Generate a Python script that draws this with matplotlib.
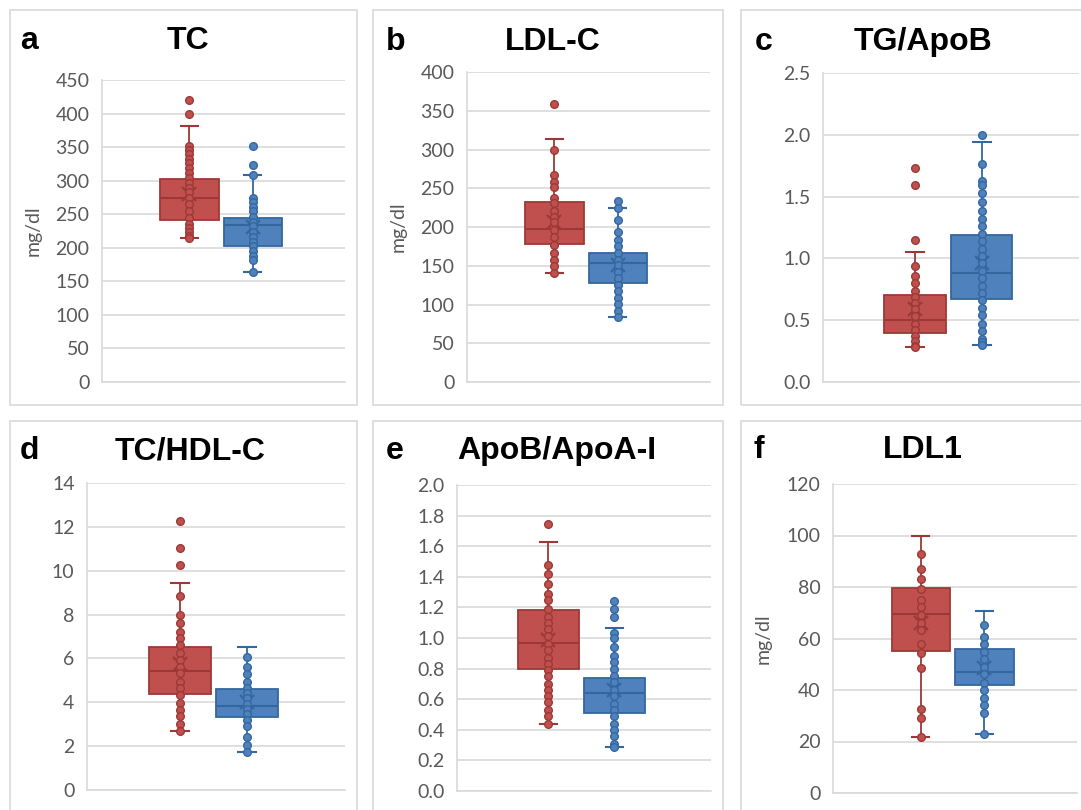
import matplotlib
matplotlib.use("Agg")
import matplotlib.pyplot as plt
from matplotlib.patches import Rectangle

# panel names
letters = ["a", "b", "c", "d", "e", "f"]
titles = ["TC", "LDL-C", "TG/ApoB", "TC/HDL-C", "ApoB/ApoA-I", "LDL1"]
ylabels = ["mg/dl", "mg/dl", "", "", "", "mg/dl"]
ylims = [(0, 450), (0, 400), (0, 2.5), (0, 14), (0, 2.0), (0, 120)]
ysteps = [50, 50, 0.5, 2, 0.2, 20]
yfmt = ["{:.0f}", "{:.0f}", "{:.1f}", "{:.0f}", "{:.1f}", "{:.0f}"]

# box stats: (whisker low, q1, median, q3, whisker high, mean)
red_stats = [
    (214, 241, 274, 302, 381, 280),
    (141, 178, 197, 232, 313, 207),
    (0.28, 0.40, 0.50, 0.70, 1.05, 0.59),
    (2.70, 4.38, 5.43, 6.54, 9.45, 5.75),
    (0.44, 0.80, 0.965, 1.18, 1.625, 0.99),
    (21.9, 55.3, 69.5, 79.7, 99.8, 66.1),
]
blue_stats = [
    (164, 202, 234, 245, 308, 231),
    (84, 128, 153, 167, 224, 151),
    (0.30, 0.67, 0.88, 1.19, 1.94, 0.96),
    (1.75, 3.32, 3.84, 4.61, 6.54, 4.03),
    (0.29, 0.51, 0.64, 0.74, 1.063, 0.66),
    (22.9, 41.9, 46.9, 55.9, 70.8, 48.4),
]

# individual points
red_pts = [
    [420, 400, 352, 346, 339, 333, 327, 319, 311, 304, 296, 289, 283, 274, 265, 255, 244, 236, 230, 224, 218, 214],
    [359, 299, 267, 258, 251, 238, 231, 221, 213, 206, 196, 187, 177, 167, 157, 150, 141],
    [1.73, 1.59, 1.15, 0.94, 0.86, 0.80, 0.74, 0.69, 0.64, 0.59, 0.53, 0.47, 0.42, 0.37, 0.33, 0.29, 0.28],
    [12.27, 11.05, 10.26, 8.85, 7.98, 7.63, 7.22, 6.95, 6.61, 6.23, 5.93, 5.62, 5.32, 4.94, 4.64, 4.33, 3.98, 3.65, 3.37, 3.01, 2.70],
    [1.745, 1.48, 1.42, 1.35, 1.29, 1.25, 1.19, 1.14, 1.10, 1.06, 1.01, 0.96, 0.92, 0.87, 0.83, 0.79, 0.75, 0.70, 0.66, 0.62, 0.58, 0.53, 0.49, 0.44],
    [92.8, 86.9, 83.1, 79.2, 75.0, 72.1, 69.1, 66.1, 63.3, 57.9, 54.2, 48.4, 32.6, 29.0, 21.9],
]
blue_pts = [
    [352, 323, 309, 274, 268, 261, 255, 246, 239, 233, 224, 216, 209, 202, 195, 188, 182, 164],
    [234, 224, 209, 194, 183, 175, 166, 157, 151, 142, 134, 125, 117, 108, 101, 91, 84],
    [2.00, 1.76, 1.63, 1.59, 1.53, 1.46, 1.38, 1.32, 1.26, 1.20, 1.14, 1.08, 1.02, 0.96, 0.90, 0.84,
     0.78, 0.72, 0.66, 0.60, 0.54, 0.47, 0.41, 0.35, 0.32, 0.30],
    [6.08, 5.62, 5.28, 4.94, 4.64, 4.41, 4.18, 3.92, 3.68, 3.47, 3.19, 2.92, 2.40, 2.05, 1.75],
    [1.24, 1.19, 1.14, 1.03, 1.00, 0.94, 0.88, 0.84, 0.80, 0.75, 0.71, 0.66, 0.62, 0.57, 0.53, 0.49,
     0.44, 0.40, 0.36, 0.31, 0.29],
    [65.2, 60.7, 57.7, 54.9, 51.9, 49.1, 46.2, 42.8, 40.0, 37.0, 34.2, 31.2, 22.9],
]

RED, RED_D = "#C0504D", "#9C3936"
BLUE, BLUE_D = "#4F81BD", "#35679F"
GRID = "#D9D9D9"
TICK = "#595959"

W, H = 1081, 810
fig = plt.figure(figsize=(W / 100, H / 100), dpi=100)

# pixel layout: axes (left, top, right, bottom), frame boxes, text anchors
ax_px = [(102, 80, 345, 382), (467, 72, 710, 382), (823, 73, 1079, 382),
         (87, 483, 345, 790), (457, 485, 711, 791), (833, 484, 1077, 793)]
frame_px = [(10, 10, 357, 405), (373, 10, 723, 405), (741, 10, 1095, 405),
            (10, 421, 357, 825), (373, 421, 723, 825), (741, 421, 1095, 825)]
letter_px = [(20, 49), (386, 50), (755, 50), (20, 459), (386, 459), (754, 458)]
title_px = [(188, 49), (553, 50), (923, 50), (190, 459), (557, 459), (923, 458)]
ylab_x = [33, 398, 0, 0, 0, 763]


def frac(x0, y0, x1, y1):
    return [x0 / W, 1 - y1 / H, (x1 - x0) / W, (y1 - y0) / H]


def stat_dict(s):
    lo, q1, med, q3, hi, mean = s
    return dict(whislo=lo, q1=q1, med=med, q3=q3, whishi=hi, mean=mean, fliers=[])


pos = [0.36, 0.62]
for i in range(6):
    x0, y0, w, h = frac(*frame_px[i])
    fig.add_artist(Rectangle((x0, y0), w, h, transform=fig.transFigure,
                             fill=False, ec=GRID, lw=1.2))
    ax = fig.add_axes(frac(*ax_px[i]))

    for j, (stats, pts, fc, ec) in enumerate([(red_stats[i], red_pts[i], RED, RED_D),
                                               (blue_stats[i], blue_pts[i], BLUE, BLUE_D)]):
        ax.bxp([stat_dict(stats)], positions=[pos[j]], widths=0.24, capwidths=0.07,
               patch_artist=True, showmeans=True, showfliers=False, manage_ticks=False,
               boxprops=dict(facecolor=fc, edgecolor=ec, lw=1.3),
               medianprops=dict(color=ec, lw=1.5),
               whiskerprops=dict(color=ec, lw=1.3),
               capprops=dict(color=ec, lw=1.5),
               meanprops=dict(marker="x", markeredgecolor=ec, markersize=10, markeredgewidth=1.6),
               zorder=2)
        ax.plot([pos[j]] * len(pts), pts, ls="none", marker="o", ms=5.5,
                mfc=fc, mec=ec, mew=1.0, zorder=3)

    lo, hi = ylims[i]
    ticks = [lo + k * ysteps[i] for k in range(int(round((hi - lo) / ysteps[i])) + 1)]
    ax.set_ylim(lo, hi)
    ax.set_yticks(ticks)
    ax.set_yticklabels([yfmt[i].format(t) for t in ticks])
    ax.set_xlim(0, 1)
    ax.set_xticks([])
    ax.tick_params(axis="y", length=0, pad=9, labelsize=14, labelcolor=TICK)
    for lab in ax.get_yticklabels():
        lab.set_family("Lato")
    ax.grid(axis="y", color=GRID, lw=1.2)
    ax.set_axisbelow(True)
    for sp in ["top", "right"]:
        ax.spines[sp].set_visible(False)
    for sp in ["left", "bottom"]:
        ax.spines[sp].set_color(GRID)
        ax.spines[sp].set_linewidth(1.2)

    fig.text(letter_px[i][0] / W, 1 - letter_px[i][1] / H, letters[i], fontsize=23,
             fontweight="bold", family="Liberation Sans", va="baseline", ha="left")
    fig.text(title_px[i][0] / W, 1 - title_px[i][1] / H, titles[i], fontsize=23,
             fontweight="bold", family="Liberation Sans", va="baseline", ha="center")
    if ylabels[i]:
        cy = (ax_px[i][1] + ax_px[i][3]) / 2
        fig.text(ylab_x[i] / W, 1 - cy / H, ylabels[i], rotation=90, fontsize=14,
                 color=TICK, family="Lato", va="center", ha="center")

fig.savefig("out.png", dpi=100)
